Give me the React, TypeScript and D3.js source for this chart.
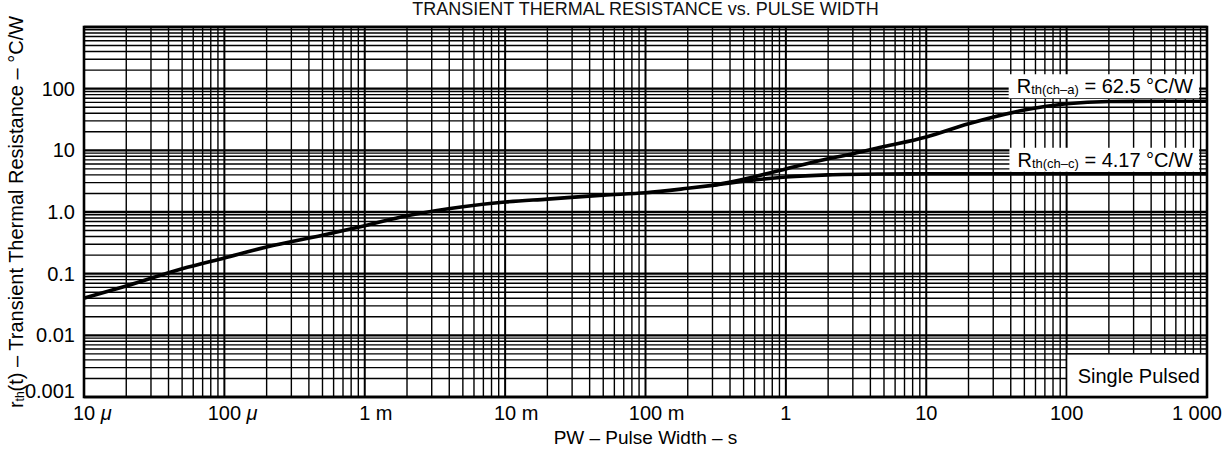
import { useEffect, useRef } from 'react';
import * as d3 from 'd3';

// pulse width (s) and transient thermal resistance (°C/W)
const commonPW = [1e-5, 2e-5, 5e-5, 1e-4, 2e-4, 5e-4, 1e-3, 2e-3, 5e-3, 1e-2, 2e-2, 5e-2, 0.1, 0.2, 0.3];
const commonRth = [0.04, 0.063, 0.12, 0.18, 0.27, 0.42, 0.6, 0.87, 1.22, 1.45, 1.62, 1.88, 2.05, 2.42, 2.7];

const ambientPW = [0.3, 0.5, 1, 2, 3, 5, 10, 20, 50, 100, 200, 500, 1000];
const ambientRth = [2.7, 3.4, 5.0, 7.3, 8.8, 11.5, 16.5, 27, 45, 57, 62, 62.5, 62.5];

const casePW = [0.3, 0.5, 1, 2, 5, 10, 100, 1000];
const caseRth = [2.7, 3.15, 3.7, 4.0, 4.13, 4.16, 4.17, 4.17];

const xTicks = [1e-5, 1e-4, 1e-3, 1e-2, 1e-1, 1, 10, 100, 1000];
const xTickNums = ['10', '100', '1', '10', '100', '1', '10', '100', '1 000'];
const xTickUnits = ['\u00a0\u03bc', '\u00a0\u03bc', '\u00a0m', '\u00a0m', '\u00a0m', '', '', '', ''];

const yTicks = [100, 10, 1, 0.1, 0.01, 0.001];
const yTickLabels = ['100', '10', '1.0', '0.1', '0.01', '0.001'];

const W = 1226;
const H = 461;
const FONT = '"Liberation Sans", Arial, Helvetica, sans-serif';

export default function App() {
  const svgRef = useRef<SVGSVGElement>(null);

  useEffect(() => {
    if (!svgRef.current) return;
    const svg = d3.select(svgRef.current);
    svg.selectAll('*').remove();

    const margin = { top: 27, right: 19, bottom: 64, left: 84 };
    const iw = W - margin.left - margin.right;
    const ih = H - margin.top - margin.bottom;

    const x = d3.scaleLog().domain([1e-5, 1000]).range([margin.left, margin.left + iw]);
    const y = d3.scaleLog().domain([0.001, 1000]).range([margin.top + ih, margin.top]);

    svg.append('rect').attr('width', W).attr('height', H).attr('fill', '#ffffff');

    // Title
    svg.append('text')
      .attr('x', margin.left + iw / 2)
      .attr('y', 15)
      .attr('text-anchor', 'middle')
      .attr('font-family', FONT)
      .attr('font-size', 18)
      .attr('fill', '#111')
      .text('TRANSIENT THERMAL RESISTANCE vs. PULSE WIDTH');

    // Log grid: 1..9 per decade
    const grid = svg.append('g');
    const xGrid: number[] = [];
    for (let e = -5; e <= 3; e++) {
      for (let m = 1; m <= 9; m++) {
        const v = m * Math.pow(10, e);
        if (v <= 1000 * 1.0001) xGrid.push(v);
      }
    }
    const yGrid: number[] = [];
    for (let e = -3; e <= 3; e++) {
      for (let m = 1; m <= 9; m++) {
        const v = m * Math.pow(10, e);
        if (v <= 1000 * 1.0001) yGrid.push(v);
      }
    }
    const isDecade = (v: number) => Math.abs(Math.log10(v) - Math.round(Math.log10(v))) < 1e-6;

    grid.selectAll('line.v')
      .data(xGrid)
      .enter()
      .append('line')
      .attr('x1', d => x(d))
      .attr('x2', d => x(d))
      .attr('y1', margin.top)
      .attr('y2', margin.top + ih)
      .attr('stroke', '#000')
      .attr('stroke-width', d => (isDecade(d) ? 2 : 1.4));

    grid.selectAll('line.h')
      .data(yGrid)
      .enter()
      .append('line')
      .attr('x1', margin.left)
      .attr('x2', margin.left + iw)
      .attr('y1', d => y(d))
      .attr('y2', d => y(d))
      .attr('stroke', '#000')
      .attr('stroke-width', d => (isDecade(d) ? 2.4 : 1.4));

    // Curves
    const line = d3.line<[number, number]>()
      .x(d => x(d[0]))
      .y(d => y(d[1]))
      .curve(d3.curveMonotoneX);

    const series = [
      commonPW.map((p, i) => [p, commonRth[i]] as [number, number]),
      ambientPW.map((p, i) => [p, ambientRth[i]] as [number, number]),
      casePW.map((p, i) => [p, caseRth[i]] as [number, number])
    ];
    series.forEach(s => {
      svg.append('path')
        .datum(s)
        .attr('fill', 'none')
        .attr('stroke', '#000')
        .attr('stroke-width', 3.6)
        .attr('stroke-linejoin', 'round')
        .attr('d', line);
    });

    // Annotation labels with white boxes
    const addRLabel = (sub: string, rest: string, value: number, dy: number) => {
      const g = svg.append('g');
      const t = g.append('text')
        .attr('x', margin.left + iw - 14)
        .attr('y', y(value) + dy)
        .attr('text-anchor', 'end')
        .attr('font-family', FONT)
        .attr('font-size', 20)
        .attr('fill', '#000');
      t.append('tspan').text('R');
      t.append('tspan').attr('font-size', 13).attr('dy', 1).text(sub);
      t.append('tspan').attr('dy', -1).text(rest);
      const bb = (t.node() as SVGTextElement).getBBox();
      g.insert('rect', 'text')
        .attr('x', bb.x - 8)
        .attr('y', bb.y - 1)
        .attr('width', bb.width + 14)
        .attr('height', bb.height + 2)
        .attr('fill', '#fff');
    };
    addRLabel('th(ch\u2013a)', '\u00a0= 62.5 \u00b0C/W', 62.5, -8);
    addRLabel('th(ch\u2013c)', '\u00a0= 4.17 \u00b0C/W', 4.17, -7);

    svg.append('rect')
      .attr('x', x(100))
      .attr('y', y(0.005))
      .attr('width', x(1000) - x(100))
      .attr('height', y(0.001) - y(0.005))
      .attr('fill', '#fff')
      .attr('stroke', '#000')
      .attr('stroke-width', 1.4);
    svg.append('text')
      .attr('x', margin.left + iw - 7)
      .attr('y', y(0.001) - 14)
      .attr('text-anchor', 'end')
      .attr('font-family', FONT)
      .attr('font-size', 20)
      .attr('fill', '#000')
      .text('Single Pulsed');

    // Frame
    svg.append('rect')
      .attr('x', margin.left)
      .attr('y', margin.top)
      .attr('width', iw)
      .attr('height', ih)
      .attr('fill', 'none')
      .attr('stroke', '#000')
      .attr('stroke-width', 2.6);

    // X tick labels: number centred on the tick, unit to the right
    xTicks.forEach((v, i) => {
      const last = i === xTicks.length - 1;
      const t = svg.append('text')
        .attr('x', x(v) + (last ? 15 : 0))
        .attr('y', 420)
        .attr('text-anchor', last ? 'end' : 'middle')
        .attr('font-family', FONT)
        .attr('font-size', 20)
        .attr('fill', '#000')
        .text(xTickNums[i]);
      if (xTickUnits[i]) {
        const w = (t.node() as SVGTextElement).getComputedTextLength();
        svg.append('text')
          .attr('x', x(v) + w / 2)
          .attr('y', 420)
          .attr('font-family', FONT)
          .attr('font-size', 20)
          .attr('font-style', xTickUnits[i].includes('\u03bc') ? 'italic' : 'normal')
          .attr('fill', '#000')
          .text(xTickUnits[i]);
      }
    });

    // Y tick labels
    yTicks.forEach((v, i) => {
      svg.append('text')
        .attr('x', 75)
        .attr('y', Math.min(y(v) + 7, margin.top + ih + 1))
        .attr('text-anchor', 'end')
        .attr('font-family', FONT)
        .attr('font-size', 20)
        .attr('fill', '#000')
        .text(yTickLabels[i]);
    });

    // Axis titles
    svg.append('text')
      .attr('x', margin.left + iw / 2)
      .attr('y', 444)
      .attr('text-anchor', 'middle')
      .attr('font-family', FONT)
      .attr('font-size', 19)
      .attr('fill', '#000')
      .text('PW \u2013 Pulse Width \u2013 s');

    const yt = svg.append('text')
      .attr('transform', `translate(23,${margin.top + ih / 2}) rotate(-90)`)
      .attr('text-anchor', 'middle')
      .attr('font-family', FONT)
      .attr('font-size', 20)
      .attr('fill', '#000');
    yt.append('tspan').text('r');
    yt.append('tspan').attr('font-size', 12).attr('dy', 1).text('th');
    yt.append('tspan').attr('dy', -1).text('(t) \u2013 Transient Thermal Resistance \u2013 \u00b0C/W');
  }, []);

  return (
    <svg
      ref={svgRef}
      width={W}
      height={H}
      style={{ position: 'absolute', left: 0, top: 0, display: 'block' }}
    />
  );
}
